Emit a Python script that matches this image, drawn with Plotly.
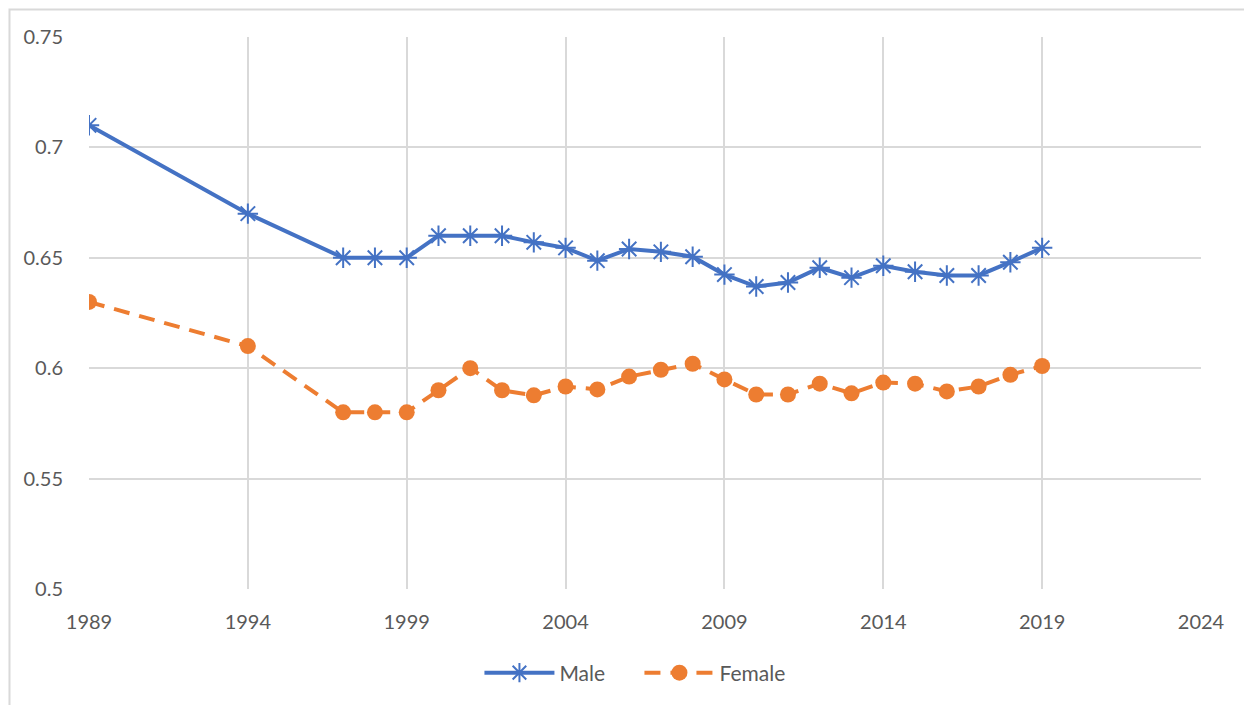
import plotly.graph_objs as go

# Data
years = [1989, 1994, 1997, 1998, 1999, 2000, 2001, 2002, 2003, 2004, 2005, 2006,
         2007, 2008, 2009, 2010, 2011, 2012, 2013, 2014, 2015, 2016, 2017, 2018, 2019]
male = [0.71, 0.67, 0.65, 0.65, 0.65, 0.66, 0.66, 0.66, 0.657, 0.6545, 0.6487, 0.654,
        0.6527, 0.6505, 0.6424, 0.637, 0.6388, 0.6455, 0.641, 0.6464, 0.6437, 0.642,
        0.642, 0.648, 0.6545]
female = [0.63, 0.61, 0.58, 0.58, 0.58, 0.59, 0.60, 0.59, 0.5877, 0.5917, 0.5904, 0.5962,
          0.5993, 0.602, 0.5949, 0.5881, 0.5881, 0.593, 0.5886, 0.5935, 0.593, 0.5895,
          0.5917, 0.597, 0.601]

font_family = 'Lato, "Open Sans", sans-serif'
text_color = '#595959'
grid_color = '#d9d9d9'

# page body adds 8px, so the figure is sized to fit the window
fig = go.Figure(
    layout={'width': 1236,
            'height': 697,
            'margin': dict(l=81, r=43, t=29, b=108),
            'font': dict(family=font_family, size=20, color=text_color),
            }
)

fig.add_trace(go.Scatter(
    x=years,
    y=male,
    name='Male',
    mode='lines+markers',
    line=dict(width=4, color='#4472C4'),
    marker=dict(symbol='asterisk-open', size=17,
                line=dict(width=2, color='#4472C4'), color='#4472C4'),
))
fig.add_trace(go.Scatter(
    x=years,
    y=female,
    name='Female',
    mode='lines+markers',
    line=dict(width=4, color='#ED7D31', dash='16px,10px'),
    marker=dict(symbol='circle', size=16, color='#ED7D31'),
))

# Outer chart border
fig.add_shape(type='rect', xref='paper', yref='paper',
              x0=-0.0715, x1=1.3, y0=-0.4, y1=1.05,
              line=dict(color=grid_color, width=2), layer='below')

fig.update_layout(
    plot_bgcolor='white',
    paper_bgcolor='white',
    xaxis=dict(range=[1989, 2024], tickmode='linear', tick0=1989, dtick=5,
               showgrid=True, gridcolor=grid_color, gridwidth=2,
               zeroline=False, showline=False, ticks='',
               ticklabelstandoff=19),
    yaxis=dict(range=[0.5, 0.75], tickmode='linear', tick0=0.5, dtick=0.05,
               showgrid=True, gridcolor=grid_color, gridwidth=2,
               zeroline=False, showline=False, ticks='',
               ticklabelstandoff=25),
    legend=dict(orientation='h', x=0.495, xanchor='center', y=-0.115, yanchor='top',
                itemwidth=70, entrywidth=75, entrywidthmode='pixels',
                font=dict(size=21, color=text_color)),
)

fig.write_html("out.html")
